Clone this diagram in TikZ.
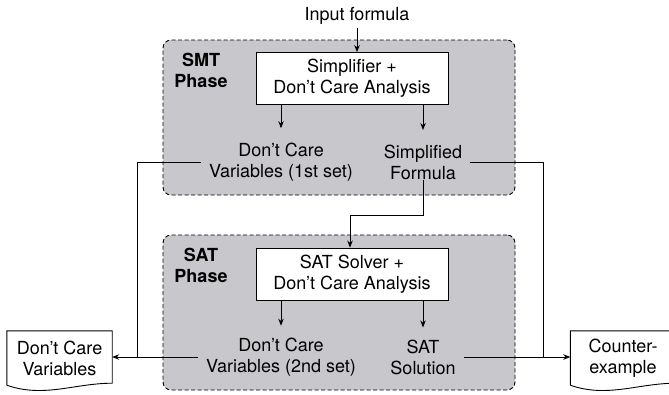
\documentclass[tikz,border=0pt]{standalone}
\usepackage{fontspec}
\setmainfont{TeX Gyre Heros}
\usetikzlibrary{arrows.meta,calc}
\definecolor{phasegray}{RGB}{200,200,204}
\begin{document}
\begin{tikzpicture}[x=1pt,y=-1pt,
  font=\fontsize{18}{21}\selectfont,
  phase/.style={draw, dash pattern=on 4pt off 2.5pt, fill=phasegray, rounded corners=8pt, line width=0.9pt, minimum width=352pt, minimum height=155pt, inner sep=0pt},
  procbox/.style={draw, fill=white, line width=0.9pt, minimum width=192pt, minimum height=52pt, align=center, inner sep=0pt},
  lbl/.style={align=center, inner xsep=8pt, inner ysep=0pt},
  phaselbl/.style={align=center, font=\fontsize{18}{21}\selectfont\bfseries, inner sep=0pt},
  arr/.style={-{Stealth[length=7pt,width=5.5pt]}, line width=0.8pt},
  conn/.style={line width=0.8pt},
  docnode/.style={minimum width=105pt, minimum height=54pt, inner sep=0pt, align=center},
  docline/.style={draw, line width=0.9pt}
]
\useasboundingbox (0,0) rectangle (669,394);
\clip (0,0) rectangle (669,394);

% phase boxes
\node[phase] (smt) at (339,117.5) {};
\node[phase] (sat) at (339,312.5) {};
\node[phaselbl] (smtlbl) at (201,70.5) {SMT\\Phase};
\node[phaselbl] (satlbl) at (201,265.5) {SAT\\Phase};

% SMT phase
\node[inner sep=3pt] (input) at (357,16) {Input formula};
\node[procbox] (simp) at (352,78.5) {Simplifier +\\Don’t Care Analysis};
\node[lbl] (dcv1) at (281,162.5) {Don’t Care\\Variables (1st set)};
\node[lbl] (simpf) at (423,162.5) {Simplified\\Formula};

% SAT phase
\node[procbox] (satsolver) at (352,274) {SAT Solver +\\Don’t Care Analysis};
\node[lbl] (dcv2) at (281,357) {Don’t Care\\Variables (2nd set)};
\node[lbl] (satsol) at (423,357) {SAT\\Solution};

% documents
\node[docnode] (dcvdoc) at (59.5,358) {Don’t Care\\Variables};
\node[docnode] (cex) at (623,358) {Counter-\\example};
\draw[docline] (dcvdoc.south west) -- (dcvdoc.north west) -- (dcvdoc.north east) -- ($(dcvdoc.south east)+(0,-2)$)
  .. controls ($(dcvdoc.south west)+(68,-2)$) and ($(dcvdoc.south west)+(37,13)$) .. (dcvdoc.south west);
\draw[docline] (cex.south west) -- (cex.north west) -- (cex.north east) -- ($(cex.south east)+(0,-2)$)
  .. controls ($(cex.south west)+(68,-2)$) and ($(cex.south west)+(37,13)$) .. (cex.south west);

% connectors
\draw[arr] (input.south) -- (input.south |- simp.north);
\draw[arr, shorten >=15pt] (simp.south -| dcv1) -- (dcv1.north);
\draw[arr, shorten >=15pt] (simp.south -| simpf) -- (simpf.north);
\draw[arr, shorten >=12pt] (satsolver.south -| dcv2) -- (dcv2.north);
\draw[arr, shorten >=12pt] (satsolver.south -| satsol) -- (satsol.north);

\coordinate (jn) at (350,215);
\draw[arr] (simpf.south) |- (jn) -- (jn |- satsolver.north);

\coordinate (lj) at (137,357);
\coordinate (rj) at (543,357);
\draw[conn] (dcv1.west) -| (lj);
\draw[arr] (dcv2.west) -- (dcvdoc.east |- dcv2.west);
\draw[conn] (simpf.east) -| (rj);
\draw[arr] (satsol.east) -- (cex.west |- satsol.east);
\end{tikzpicture}
\end{document}
